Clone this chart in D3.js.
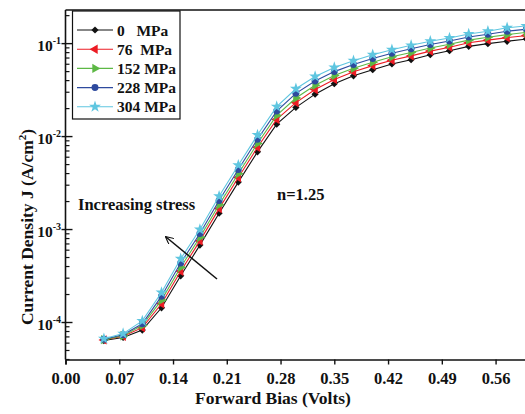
<!DOCTYPE html>
<html>
<head>
<meta charset="utf-8">
<script src="https://cdn.jsdelivr.net/npm/d3@7"></script>
<style>
  body { margin: 0; background: #fff; }
  text { font-family: "Liberation Serif", "Times New Roman", serif; font-weight: bold; fill: #111; }
</style>
</head>
<body>
<div id="chart"></div>
<script>
// forward bias (V)
const bias = [0.05, 0.075, 0.1, 0.125, 0.15, 0.175, 0.2, 0.225, 0.25, 0.275, 0.3, 0.325,
              0.35, 0.375, 0.4, 0.425, 0.45, 0.475, 0.5, 0.525, 0.55, 0.575, 0.6];

// current density (A/cm^2) per stress level
const j0 = [6.4e-5, 6.9e-5, 8.3e-5, 1.44e-4, 3.18e-4, 6.8e-4, 1.50e-3, 3.24e-3, 6.85e-3, 1.36e-2, 2.06e-2, 2.86e-2,
            3.70e-2, 4.51e-2, 5.24e-2, 6.04e-2, 6.71e-2, 7.60e-2, 8.40e-2, 9.35e-2, 0.100, 0.106, 0.112];
const j76 = [6.5e-5, 7.1e-5, 8.8e-5, 1.59e-4, 3.56e-4, 7.55e-4, 1.68e-3, 3.63e-3, 7.67e-3, 1.53e-2, 2.32e-2, 3.21e-2,
             4.12e-2, 4.99e-2, 5.80e-2, 6.63e-2, 7.38e-2, 8.31e-2, 9.16e-2, 0.102, 0.109, 0.116, 0.122];
const j152 = [6.55e-5, 7.2e-5, 9.3e-5, 1.74e-4, 3.93e-4, 8.25e-4, 1.85e-3, 3.99e-3, 8.44e-3, 1.69e-2, 2.60e-2, 3.56e-2,
              4.53e-2, 5.43e-2, 6.31e-2, 7.21e-2, 8.02e-2, 8.98e-2, 9.83e-2, 0.109, 0.117, 0.125, 0.132];
const j228 = [6.6e-5, 7.4e-5, 9.7e-5, 1.92e-4, 4.36e-4, 9.08e-4, 2.05e-3, 4.43e-3, 9.37e-3, 1.88e-2, 2.92e-2, 3.96e-2,
              5.00e-2, 5.97e-2, 6.93e-2, 7.89e-2, 8.79e-2, 9.78e-2, 0.1066, 0.118, 0.126, 0.136, 0.143];
const j304 = [6.7e-5, 7.6e-5, 1.04e-4, 2.10e-4, 4.85e-4, 1.0e-3, 2.28e-3, 4.92e-3, 1.04e-2, 2.10e-2, 3.27e-2, 4.43e-2,
              5.54e-2, 6.55e-2, 7.60e-2, 8.61e-2, 9.59e-2, 0.106, 0.115, 0.127, 0.136, 0.148, 0.155];

const seriesNames = ["0   MPa", "76  MPa", "152 MPa", "228 MPa", "304 MPa"];
const seriesValues = [j0, j76, j152, j228, j304];
const seriesColors = ["#111111", "#ec1c24", "#5db845", "#2e4a9e", "#5fc6e0"];

const xTicks = [0, 0.07, 0.14, 0.21, 0.28, 0.35, 0.42, 0.49, 0.56];
const yMajor = [1e-4, 1e-3, 1e-2, 1e-1];

const width = 525, height = 414;
const margin = { top: 10, right: -1.3, bottom: 54.5, left: 65.5 };

const svg = d3.select("#chart").append("svg")
    .attr("width", width)
    .attr("height", height);

const x = d3.scaleLinear().domain([0, 0.6]).range([margin.left, width - margin.right]);
const y = d3.scaleLog().domain([4e-5, 0.23]).range([height - margin.bottom, margin.top]);

// marker shapes
const symbols = [
    d3.symbol().type(d3.symbolSquare).size(26),
    d3.symbol().type(d3.symbolTriangle).size(38),
    d3.symbol().type(d3.symbolTriangle).size(38),
    d3.symbol().type(d3.symbolCircle).size(38),
    d3.symbol().type(d3.symbolStar).size(44),
];
const rotations = [45, -90, 90, 0, 0];

const line = d3.line().x((d) => x(d[0])).y((d) => y(d[1]));

const plot = svg.append("g");
seriesValues.forEach((vals, i) => {
    const pts = bias.map((b, k) => [b, vals[k]]);
    plot.append("path")
        .attr("d", line(pts))
        .attr("fill", "none")
        .attr("stroke", seriesColors[i])
        .attr("stroke-width", 1.1);
    plot.selectAll(null)
        .data(pts)
        .join("path")
        .attr("d", symbols[i])
        .attr("transform", (d) => `translate(${x(d[0])},${y(d[1])}) rotate(${rotations[i]})`)
        .attr("fill", seriesColors[i]);
});

// axes
const xAxis = d3.axisBottom(x).tickValues(xTicks).tickSize(5).tickFormat(d3.format(".2f"));
const gx = svg.append("g")
    .attr("transform", `translate(0,${height - margin.bottom})`)
    .call(xAxis);
gx.select(".domain").attr("stroke-width", 1.6).attr("stroke", "#111");
gx.selectAll(".tick line").attr("stroke-width", 1.4).attr("stroke", "#111");
gx.selectAll(".tick text")
    .attr("y", 10)
    .attr("dy", "0.9em")
    .style("font-size", "16.5px")
    .style("font-family", "Liberation Serif, serif")
    .style("font-weight", "bold");

// y axis: spine + ticks drawn from the scale
const gy = svg.append("g");
gy.append("line")
    .attr("x1", margin.left).attr("x2", margin.left)
    .attr("y1", margin.top).attr("y2", height - margin.bottom)
    .attr("stroke", "#111").attr("stroke-width", 1.6);
// top spine
svg.append("line")
    .attr("x1", margin.left).attr("x2", width)
    .attr("y1", margin.top).attr("y2", margin.top)
    .attr("stroke", "#111").attr("stroke-width", 1.6);

const minor = [];
for (let e = -5; e <= -1; e++) {
    for (let m = 2; m <= 9; m++) {
        const v = m * 10 ** e;
        if (v >= 4e-5 && v <= 0.23) minor.push(v);
    }
}
gy.selectAll(".minor")
    .data(minor)
    .join("line")
    .attr("x1", margin.left).attr("x2", margin.left + 4)
    .attr("y1", (d) => y(d)).attr("y2", (d) => y(d))
    .attr("stroke", "#111").attr("stroke-width", 1.2);
gy.selectAll(".major")
    .data(yMajor)
    .join("line")
    .attr("x1", margin.left - 4).attr("x2", margin.left + 7)
    .attr("y1", (d) => y(d)).attr("y2", (d) => y(d))
    .attr("stroke", "#111").attr("stroke-width", 1.4);
const ylab = gy.selectAll(".ylab")
    .data(yMajor)
    .join("text")
    .attr("x", margin.left - 4.5)
    .attr("y", (d) => y(d) + 7)
    .attr("text-anchor", "end")
    .style("font-size", "15.5px");
ylab.append("tspan").text("10");
ylab.append("tspan")
    .attr("dy", -7)
    .style("font-size", "10px")
    .text((d) => `-${Math.round(-Math.log10(d))}`);

// axis titles
svg.append("text")
    .attr("x", 273)
    .attr("y", 404)
    .attr("text-anchor", "middle")
    .style("font-size", "17.5px")
    .text("Forward Bias (Volts)");

const yTitle = svg.append("text")
    .attr("transform", "translate(33,227) rotate(-90)")
    .attr("text-anchor", "middle")
    .style("font-size", "17.5px");
yTitle.append("tspan").text("Current Density J (A/cm");
yTitle.append("tspan").attr("dy", -7).style("font-size", "11px").text("2");
yTitle.append("tspan").attr("dy", 7).text(")");

// annotations
svg.append("text")
    .attr("x", 277)
    .attr("y", 200)
    .style("font-size", "16.5px")
    .text("n=1.25");
svg.append("text")
    .attr("x", 78)
    .attr("y", 210)
    .style("font-size", "16.5px")
    .text("Increasing stress");

svg.append("defs").append("marker")
    .attr("id", "arrow")
    .attr("viewBox", "0 0 10 10")
    .attr("refX", 9).attr("refY", 5)
    .attr("markerWidth", 8).attr("markerHeight", 8)
    .attr("markerUnits", "userSpaceOnUse")
    .attr("orient", "auto")
    .append("path")
    .attr("d", "M0,0 L10,5 L0,10")
    .attr("fill", "none")
    .attr("stroke", "#111")
    .attr("stroke-width", 1.4);
svg.append("line")
    .attr("x1", 217).attr("y1", 279)
    .attr("x2", 166).attr("y2", 237)
    .attr("stroke", "#111")
    .attr("stroke-width", 1.5)
    .attr("marker-end", "url(#arrow)");

// legend
const legend = svg.append("g");
legend.append("rect")
    .attr("x", 72.5).attr("y", 11)
    .attr("width", 107.5).attr("height", 108)
    .attr("fill", "#fff")
    .attr("stroke", "#111")
    .attr("stroke-width", 1.2);
const rows = legend.selectAll(".row")
    .data(seriesNames)
    .join("g")
    .attr("transform", (d, i) => `translate(0,${30 + i * 19.2})`);
rows.append("line")
    .attr("x1", 77).attr("x2", 113)
    .attr("stroke", (d, i) => seriesColors[i])
    .attr("stroke-width", 1.1);
rows.append("path")
    .attr("d", (d, i) => symbols[i]())
    .attr("transform", (d, i) => `translate(95,0) rotate(${rotations[i]})`)
    .attr("fill", (d, i) => seriesColors[i]);
rows.append("text")
    .attr("x", 117)
    .attr("y", 5.5)
    .attr("xml:space", "preserve")
    .style("white-space", "pre")
    .style("font-size", "15.5px")
    .text((d) => d);
</script>
</body>
</html>
